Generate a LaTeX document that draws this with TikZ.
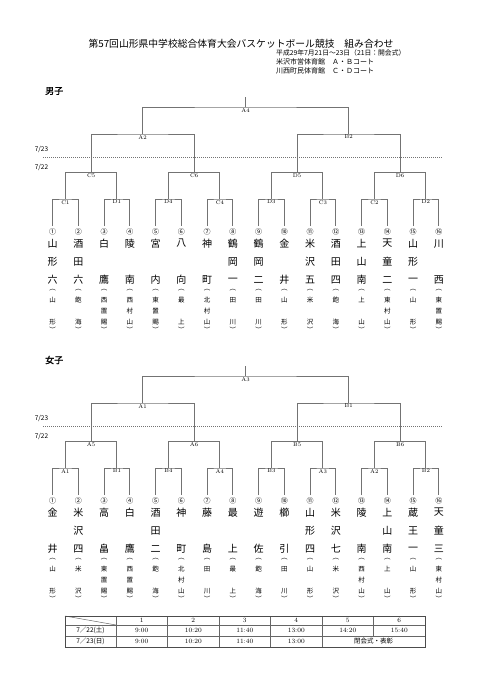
\documentclass[tikz,border=0pt]{standalone}
\usepackage{fontspec}
\newfontfamily\jp{Noto Sans CJK JP}
\newfontfamily\jphead[FakeBold=1.6]{Noto Sans CJK JP}
\usetikzlibrary{positioning}

\tikzset{
  bline/.style={draw=black!55, line width=0.8pt},
  dayline/.style={draw=black!55, line width=0.7pt, dash pattern=on 0.8pt off 1.2pt},
  mlabel/.style={below, inner sep=1pt, font=\fontsize{5.5}{6}\selectfont},
  circnum/.style={inner sep=0pt, font=\jp\fontsize{7}{7}\selectfont},
  kanji/.style={inner sep=0pt, font=\jp\fontsize{10}{10}\selectfont},
  district/.style={inner sep=0pt, font=\jp\fontsize{6.5}{6.5}\selectfont},
  daylabel/.style={inner sep=0pt, font=\jp\fontsize{6.5}{7}\selectfont},
  cell/.style={inner sep=0pt, font=\fontsize{6.5}{7}\selectfont},
  jcell/.style={inner sep=0pt, font=\jp\fontsize{6.5}{7}\selectfont},
}

\begin{document}
\begin{tikzpicture}[x=1pt, y=-1pt]
  \useasboundingbox (0,0) rectangle (481,680);
  % heading
  \node[inner sep=0pt, font=\jp\fontsize{9.8}{10}\selectfont] (title) at (241,43.5)
    {第57回山形県中学校総合体育大会バスケットボール競技　組み合わせ};
  \node[anchor=west, inner sep=0pt, font=\jp\fontsize{6.8}{7}\selectfont] (dates) at (276,52.5)
    {平成29年7月21日～23日（21日：開会式）};
  \node[anchor=west, inner sep=0pt, font=\jp\fontsize{7}{7}\selectfont] (courtab) at (276,61.5)
    {米沢市営体育館　Ａ・Ｂコート};
  \node[anchor=west, inner sep=0pt, font=\jp\fontsize{7}{7}\selectfont] (courtcd) at (276,71)
    {川西町民体育館　Ｃ・Ｄコート};

  % brackets (boys on top, girls 269 lower)
  \foreach \half/\dy/\sex/\rA/\rB/\rC/\rD in {
      b/0/男子/{C1,D1,D4,C4,D3,C3,C2,D2}/{C5,C6,D5,D6}/{A2,B2}/A4,
      g/269/女子/{A1,B1,B4,A4,B3,A3,A2,B2}/{A5,A6,B5,B6}/{A1,B1}/A3}{
  \begin{scope}[yshift=-\dy pt]
    \node[anchor=west, inner sep=0pt, font=\jphead\fontsize{9}{9}\selectfont] (\half-head) at (45,91) {\sex};
    \node[daylabel] (\half-d23) at (41.5,149) {7/23};
    \node[daylabel] (\half-d22) at (41.5,167) {7/22};
    \draw[dayline] (43,157.5) -- (442,157.5);
    \foreach \i in {1,...,16}{
      \coordinate (\half-t\i) at ({52.5+25.75*(\i-1)},226);
    }
    % first round
    \foreach \lab [count=\j] in \rA{
      \pgfmathtruncatemacro\jl{2*\j-1}
      \pgfmathtruncatemacro\jr{2*\j}
      \coordinate (\half-a\j) at ({65.375+51.5*(\j-1)},199);
      \draw[bline] (\half-t\jl) |- (\half-a\j) -| (\half-t\jr);
      \node[mlabel] (\half-a\j-lab) at (\half-a\j) {\lab};
    }
    % second round
    \foreach \lab [count=\j] in \rB{
      \pgfmathtruncatemacro\jl{2*\j-1}
      \pgfmathtruncatemacro\jr{2*\j}
      \coordinate (\half-b\j) at ({91.125+103*(\j-1)},172.5);
      \draw[bline] (\half-a\jl) |- (\half-b\j) -| (\half-a\jr);
      \node[mlabel] (\half-b\j-lab) at (\half-b\j) {\lab};
    }
    % semi final
    \foreach \lab [count=\j] in \rC{
      \pgfmathtruncatemacro\jl{2*\j-1}
      \pgfmathtruncatemacro\jr{2*\j}
      \coordinate (\half-c\j) at ({142.625+206*(\j-1)},134);
      \draw[bline] (\half-b\jl) |- (\half-c\j) -| (\half-b\jr);
      \node[mlabel] (\half-c\j-lab) at (\half-c\j) {\lab};
    }
    % final
    \coordinate (\half-f) at (245.625,107);
    \coordinate (\half-top) at (245.625,97);
    \draw[bline] (\half-c1) |- (\half-f) -| (\half-c2);
    \draw[bline] (\half-f) -- (\half-top);
    \node[mlabel] (\half-f-lab) at (\half-f) {\rD};
  \end{scope}
  }

  % boys teams
  \foreach \n/\ra/\rb/\rc/\pa/\pb/\pc [count=\i] in {
      ①/山/形/六/山//形, ②/酒/田/六/飽//海, ③/白//鷹/西/置/賜, ④/陵//南/西/村/山,
      ⑤/宮//内/東/置/賜, ⑥/八//向/最//上, ⑦/神//町/北/村/山, ⑧/鶴/岡/一/田//川,
      ⑨/鶴/岡/二/田//川, ⑩/金//井/山//形, ⑪/米/沢/五/米//沢, ⑫/酒/田/四/飽//海,
      ⑬/上/山/南/上//山, ⑭/天/童/二/東/村/山, ⑮/山/形/一/山//形, ⑯/川//西/東/置/賜}{
    \pgfmathsetmacro\tx{52.5+25.75*(\i-1)}
    \node[circnum] (b-n\i) at (\tx,232) {\n};
    \node[kanji] (b-ra\i) at (\tx,243.5) {\ra};
    \node[kanji] (b-rb\i) at (\tx,262) {\rb};
    \node[kanji] (b-rc\i) at (\tx,280) {\rc};
    \node[district] (b-po\i) at (\tx,290) {︵};
    \node[district] (b-pa\i) at (\tx,300) {\pa};
    \node[district] (b-pb\i) at (\tx,311) {\pb};
    \node[district] (b-pc\i) at (\tx,322) {\pc};
    \node[district] (b-pe\i) at (\tx,330) {︶};
  }

  % girls teams
  \foreach \n/\ra/\rb/\rc/\pa/\pb/\pc [count=\i] in {
      ①/金//井/山//形, ②/米/沢/四/米//沢, ③/高//畠/東/置/賜, ④/白//鷹/西/置/賜,
      ⑤/酒/田/二/飽//海, ⑥/神//町/北/村/山, ⑦/藤//島/田//川, ⑧/最//上/最//上,
      ⑨/遊//佐/飽//海, ⑩/櫛//引/田//川, ⑪/山/形/四/山//形, ⑫/米/沢/七/米//沢,
      ⑬/陵//南/西/村/山, ⑭/上/山/南/上//山, ⑮/蔵/王/一/山//形, ⑯/天/童/三/東/村/山}{
    \pgfmathsetmacro\tx{52.5+25.75*(\i-1)}
    \node[circnum] (g-n\i) at (\tx,501) {\n};
    \node[kanji] (g-ra\i) at (\tx,512.5) {\ra};
    \node[kanji] (g-rb\i) at (\tx,531) {\rb};
    \node[kanji] (g-rc\i) at (\tx,549) {\rc};
    \node[district] (g-po\i) at (\tx,559) {︵};
    \node[district] (g-pa\i) at (\tx,569) {\pa};
    \node[district] (g-pb\i) at (\tx,580) {\pb};
    \node[district] (g-pc\i) at (\tx,591) {\pc};
    \node[district] (g-pe\i) at (\tx,599) {︶};
  }

  % timetable
  \draw[black!60, line width=0.5pt] (65,625) -- (425,625) (65,636) -- (425,636);
  \foreach \cx in {116,167.5,219,270.5,322}{
    \draw[black!60, line width=0.5pt] (\cx,616) -- (\cx,647);
  }
  \draw[black!60, line width=0.5pt] (373.5,616) -- (373.5,636);
  \draw[black!60, line width=0.5pt] (65,616) -- (116,625);
  \draw[black!70, line width=1pt] (65,616) rectangle (425,647);
  \foreach \c in {1,...,6}{
    \node[cell] (tt-h\c) at ({141.75+51.5*(\c-1)},620.5) {\c};
  }
  \node[jcell] (tt-d22) at (90.5,630.5) {7／22(土)};
  \node[jcell] (tt-d23) at (90.5,641.5) {7／23(日)};
  \foreach \t [count=\c] in {9:00,10:20,11:40,13:00,14:20,15:40}{
    \node[cell] (tt-a\c) at ({141.75+51.5*(\c-1)},630.5) {\t};
  }
  \foreach \t [count=\c] in {9:00,10:20,11:40,13:00}{
    \node[cell] (tt-b\c) at ({141.75+51.5*(\c-1)},641.5) {\t};
  }
  \node[jcell] (tt-close) at (373.5,641.5) {閉会式・表彰};
\end{tikzpicture}
\end{document}
